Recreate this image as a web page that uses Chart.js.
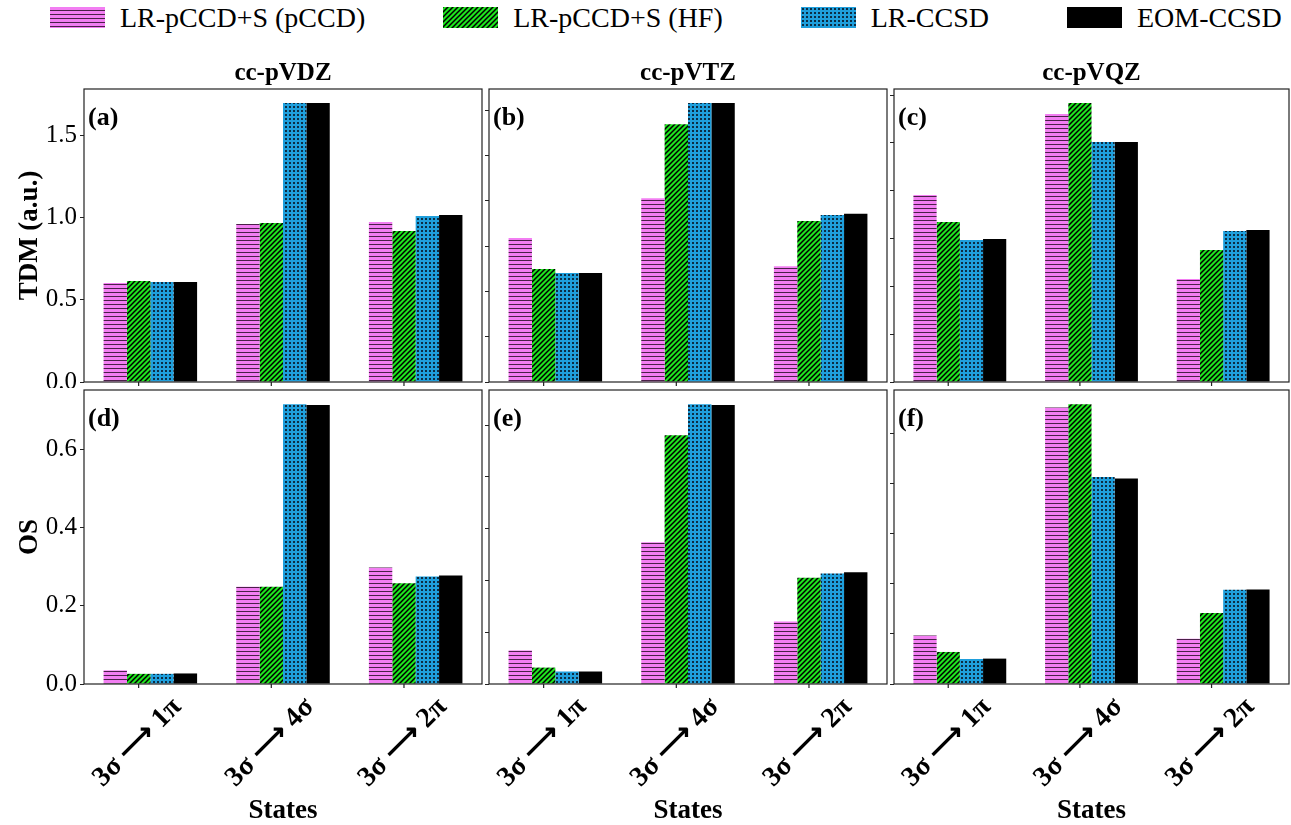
<!DOCTYPE html>
<html>
<head>
<meta charset="utf-8">
<script src="https://cdn.jsdelivr.net/npm/chart.js@4.4.1/dist/chart.umd.min.js"></script>
<style>
  body { margin: 0; background: #fff; }
  #wrap { position: relative; width: 1291px; height: 825px; overflow: hidden; font-family: "Liberation Serif", "Times New Roman", serif; }
  #wrap canvas.panel { position: absolute; }
  #legend { position: absolute; left: 50px; top: 6px; display: flex; gap: 78px; }
  .lg { height: 23px; display: flex; align-items: center; font-family: "Liberation Serif", serif; font-size: 28px; color: #000; white-space: nowrap; }
  .lg canvas { margin-right: 15px; }
</style>
</head>
<body>
<div id="wrap"><div id="legend"></div></div>
<script>
(function () {
  "use strict";

  // ---- data ----
  const seriesNames = ['LR-pCCD+S (pCCD)', 'LR-pCCD+S (HF)', 'LR-CCSD', 'EOM-CCSD'];
  const states = ['3σ ⟶ 1π', '3σ ⟶ 4σ', '3σ ⟶ 2π'];
  const bases = ['cc-pVDZ', 'cc-pVTZ', 'cc-pVQZ'];
  const tags = [['(a)', '(b)', '(c)'], ['(d)', '(e)', '(f)']];

  // one row per basis set (VDZ, VTZ, VQZ), one value per state
  const tdmPccd   = [[0.603, 0.962, 0.974], [0.877, 1.119, 0.705], [1.139, 1.632, 0.627]];
  const tdmHf     = [[0.615, 0.968, 0.920], [0.688, 1.571, 0.981], [0.974, 1.700, 0.804]];
  const tdmLrccsd = [[0.609, 1.700, 1.011], [0.664, 1.700, 1.017], [0.865, 1.462, 0.920]];
  const tdmEom    = [[0.609, 1.700, 1.017], [0.664, 1.700, 1.025], [0.871, 1.462, 0.926]];

  const osPccd   = [[0.035, 0.249, 0.298], [0.086, 0.363, 0.160], [0.124, 0.708, 0.116]];
  const osHf     = [[0.026, 0.249, 0.258], [0.042, 0.637, 0.272], [0.082, 0.716, 0.182]];
  const osLrccsd = [[0.026, 0.716, 0.275], [0.032, 0.716, 0.283], [0.064, 0.530, 0.241]];
  const osEom    = [[0.027, 0.714, 0.278], [0.032, 0.714, 0.286], [0.065, 0.526, 0.242]];

  // y axes
  const tdmTicks = [0, 0.5, 1.0, 1.5];
  const osTicks  = [0, 0.2, 0.4, 0.6];
  const tdmMax = 1.785;
  const osMax  = 0.7526;
  // unlabelled tick spacing used on the inner panels
  const tdmInnerStep = [0.2761, 0.2913];
  const osInnerStep  = [0.1325, 0.1285];

  // ---- layout of the six panels (pixels) ----
  const colLeft   = [84, 489, 894];
  const colRight  = [482, 887, 1289];
  const rowTop    = [88, 390];
  const rowBottom = [382, 684];
  const serif = '"Liberation Serif", "Times New Roman", serif';

  // hatch patterns
  function makePattern(kind) {
    const c = document.createElement('canvas');
    const x = c.getContext('2d');
    if (kind === 0) {
      c.width = 4; c.height = 4;
      x.fillStyle = '#f27ef2'; x.fillRect(0, 0, 4, 4);
      x.fillStyle = '#4a2048'; x.fillRect(0, 3, 4, 1);
    } else if (kind === 1) {
      c.width = 5; c.height = 5;
      x.fillStyle = '#1ee61e'; x.fillRect(0, 0, 5, 5);
      x.strokeStyle = '#000'; x.lineWidth = 1.5;
      x.beginPath();
      x.moveTo(-1, 6); x.lineTo(6, -1);
      x.moveTo(-1, 1); x.lineTo(1, -1);
      x.moveTo(4, 6); x.lineTo(6, 4);
      x.stroke();
    } else if (kind === 2) {
      c.width = 4; c.height = 4;
      x.fillStyle = '#1f9fdc'; x.fillRect(0, 0, 4, 4);
      x.fillStyle = '#0c2d44'; x.fillRect(1, 1, 2, 2);
    } else {
      return '#000000';
    }
    return x.createPattern(c, 'repeat');
  }
  const fills = [0, 1, 2, 3].map(makePattern);

  const wrap = document.getElementById('wrap');

  // legend (HTML row above the panels)
  const legendBox = document.getElementById('legend');
  seriesNames.forEach(function (name, i) {
    const item = document.createElement('div');
    item.className = 'lg';
    const sw = document.createElement('canvas');
    sw.width = 55; sw.height = 21;
    const sctx = sw.getContext('2d');
    sctx.fillStyle = fills[i];
    sctx.fillRect(0, 0, 55, 21);
    const label = document.createElement('span');
    label.textContent = name;
    item.appendChild(sw);
    item.appendChild(label);
    legendBox.appendChild(item);
  });

  // frame, tick marks under 2nd bar, panel tag
  const panelDeco = {
    id: 'panelDeco',
    afterDraw(chart, args, opts) {
      const ctx = chart.ctx;
      const a = chart.chartArea;
      ctx.save();
      ctx.strokeStyle = '#222';
      ctx.lineWidth = 1.2;
      ctx.strokeRect(a.left, a.top, a.right - a.left, a.bottom - a.top);
      const meta = chart.getDatasetMeta(1);
      ctx.beginPath();
      meta.data.forEach(function (bar) {
        ctx.moveTo(bar.x, a.bottom);
        ctx.lineTo(bar.x, a.bottom + 4);
      });
      ctx.stroke();
      ctx.fillStyle = '#000';
      ctx.font = 'bold 26px ' + serif;
      ctx.textBaseline = 'alphabetic';
      ctx.fillText(opts.tag, a.left + 4, a.top + 36);
      ctx.restore();
    }
  };

  function buildPanel(row, col) {
    const padL = col === 0 ? 84 : 6;
    const padT = row === 0 ? 27 : 2;
    const padB = row === 0 ? 6 : 143;
    const padR = 2;
    const w = colRight[col] - colLeft[col] + padL + padR;
    const h = rowBottom[row] - rowTop[row] + padT + padB;

    const canvas = document.createElement('canvas');
    canvas.className = 'panel';
    canvas.width = w;
    canvas.height = h;
    canvas.style.left = (colLeft[col] - padL) + 'px';
    canvas.style.top = (rowTop[row] - padT) + 'px';
    canvas.style.width = w + 'px';
    canvas.style.height = h + 'px';
    wrap.appendChild(canvas);

    const series = row === 0 ? [tdmPccd, tdmHf, tdmLrccsd, tdmEom] : [osPccd, osHf, osLrccsd, osEom];
    const yMax = row === 0 ? tdmMax : osMax;
    let yTicks;
    if (col === 0) {
      yTicks = row === 0 ? tdmTicks : osTicks;
    } else {
      const step = row === 0 ? tdmInnerStep[col - 1] : osInnerStep[col - 1];
      yTicks = [];
      for (let k = 0; k * step <= yMax - 0.01; k++) yTicks.push(k * step);
    }

    return new Chart(canvas.getContext('2d'), {
      type: 'bar',
      data: {
        labels: states,
        datasets: series.map(function (s, i) {
          return {
            label: seriesNames[i],
            data: s[col],
            backgroundColor: fills[i],
            borderWidth: 0,
            categoryPercentage: 0.705,
            barPercentage: 1.0
          };
        })
      },
      options: {
        responsive: false,
        animation: false,
        layout: { padding: { top: row === 0 ? 0 : padT, left: 0, right: padR, bottom: 0 } },
        scales: {
          x: {
            type: 'category',
            offset: true,
            afterFit: function (s) { s.height = padB; s.paddingLeft = 0; s.paddingRight = 0; },
            grid: { display: false, drawTicks: false },
            border: { display: false },
            ticks: {
              display: row === 1,
              autoSkip: false,
              minRotation: 45,
              maxRotation: 45,
              labelOffset: 27,
              padding: 7,
              color: '#000',
              font: { family: serif, size: 28, weight: 'bold' }
            },
            title: {
              display: row === 1,
              text: 'States',
              color: '#000',
              font: { family: serif, size: 27, weight: 'bold' },
              padding: { top: 0, bottom: 0 }
            }
          },
          y: {
            min: 0,
            max: yMax,
            afterBuildTicks: function (s) { s.ticks = yTicks.map(function (v) { return { value: v }; }); },
            afterFit: function (s) { s.width = padL; s.paddingTop = 0; s.paddingBottom = 0; },
            grid: { drawOnChartArea: false, drawTicks: true, tickLength: 4, color: '#222', lineWidth: 1 },
            border: { display: false },
            ticks: {
              display: col === 0,
              padding: 3,
              color: '#000',
              font: { family: serif, size: 25 },
              callback: function (v) { return Number(v).toFixed(1); }
            },
            title: {
              display: col === 0,
              text: row === 0 ? 'TDM (a.u.)' : 'OS',
              color: '#000',
              font: { family: serif, size: 27, weight: 'bold' },
              padding: { top: 14, bottom: 0 }
            }
          }
        },
        plugins: {
          legend: { display: false },
          tooltip: { enabled: false },
          title: {
            display: row === 0,
            fullSize: false,
            text: bases[col],
            color: '#000',
            font: { family: serif, size: 25, weight: 'bold', lineHeight: 1 },
            padding: { top: 0, bottom: 3 }
          },
          panelDeco: { tag: tags[row][col] }
        }
      },
      plugins: [panelDeco]
    });
  }

  for (let r = 0; r < 2; r++) {
    for (let c = 0; c < 3; c++) {
      buildPanel(r, c);
    }
  }
})();
</script>
</body>
</html>
